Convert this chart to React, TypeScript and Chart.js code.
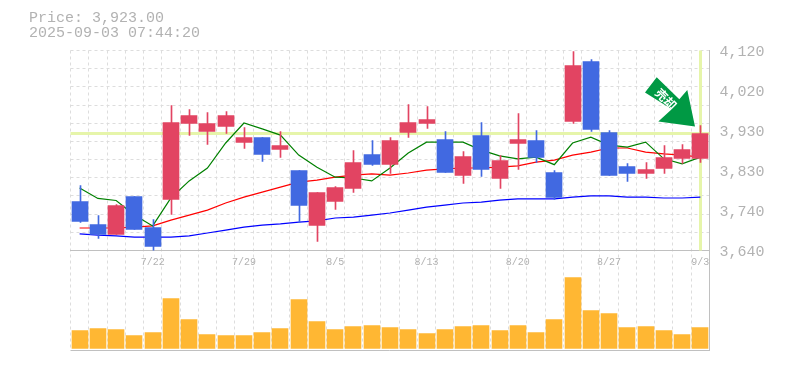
import React, { useEffect, useRef } from "react";
import { Chart, registerables } from "chart.js";

Chart.register(...registerables);

const headerLines = ["Price: 3,923.00", "2025-09-03 07:44:20"];
const currentPrice = 3923;
const arrowLabel = "売却";

const dates = ["7/15","7/16","7/17","7/18","7/22","7/23","7/24","7/25","7/28","7/29","7/30","7/31","8/1","8/4","8/5","8/6","8/7","8/8","8/12","8/13","8/14","8/15","8/18","8/19","8/20","8/21","8/22","8/25","8/26","8/27","8/28","8/29","9/1","9/2","9/3"];
const shownDates = ["7/22","7/29","8/5","8/13","8/20","8/27","9/3"];

const priceTickValues = [3640,3736,3832,3928,4024,4120];
const priceTickLabels = ["3,640","3,740","3,830","3,930","4,020","4,120"];
const priceMin = 3640;
const priceMax = 4120;
const gridDivisions = 11;

const opens  = [3759,3704,3680,3771,3696,3764,3946,3927,3939,3900,3912,3884,3833,3701,3759,3790,3872,3848,3924,3946,3908,3821,3917,3814,3898,3905,3828,3951,4095,3924,3843,3826,3838,3862,3862];
const closes = [3712,3680,3749,3692,3651,3948,3965,3946,3965,3912,3872,3893,3749,3780,3792,3852,3848,3905,3948,3956,3828,3867,3836,3857,3908,3864,3768,4085,3932,3821,3826,3836,3864,3884,3923];
const highs  = [3797,3725,3751,3771,3716,3989,3980,3972,3975,3936,3912,3927,3833,3780,3794,3881,3905,3912,3992,3987,3927,3879,3948,3869,3970,3929,3833,4120,4100,3929,3850,3852,3893,3896,3941];
const lows   = [3709,3671,3680,3692,3640,3728,3917,3896,3922,3886,3855,3864,3708,3663,3740,3780,3845,3826,3912,3934,3828,3802,3819,3790,3836,3852,3764,3946,3927,3821,3807,3814,3826,3850,3852];

const maShort = [3790,3765,3760,3725,3699,3766,3807,3838,3898,3946,3932,3917,3869,3840,3816,3814,3807,3838,3874,3900,3900,3900,3881,3867,3860,3864,3846,3898,3912,3893,3888,3900,3860,3848,3864];
const maMid   = [3694,3694,3694,3696,3699,3713,3725,3737,3754,3768,3780,3792,3804,3809,3816,3821,3824,3821,3826,3833,3836,3838,3838,3840,3843,3852,3857,3869,3876,3886,3886,3876,3872,3869,3864];
const maLong  = [3680,3677,3675,3672,3672,3672,3675,3682,3689,3696,3701,3704,3708,3711,3718,3720,3725,3730,3737,3744,3749,3754,3756,3761,3764,3764,3764,3768,3771,3771,3768,3768,3766,3766,3768];

const volumes = [18000,20000,19000,13000,16000,50000,29000,14000,13000,13000,16000,20000,49000,27000,19000,22000,23000,21000,19000,15000,19000,22000,23000,18000,23000,16000,29000,71000,38000,35000,21000,22000,18000,14000,21000];
const volumeMin = -2500;
const volumeMax = 97500;

const RED = "#E24462";
const BLUE = "#4169E1";
const ORANGE = "#FFB733";
const LIME = "#E6F5AA";
const GREY = "#C0C0C0";
const TEXT = "#B2B2B2";
const GRID = "#DDDDDD";
const MONO = '"Liberation Mono", monospace';

const snapPlugin = {
  id: "snap",
  afterDatasetsUpdate(chart: any) {
    chart.data.datasets.forEach((ds: any, i: number) => {
      if (ds.type !== "bar") return;
      chart.getDatasetMeta(i).data.forEach((el: any) => {
        el.x = Math.round(el.x) + (ds.snapOffset || 0);
        el.y = Math.round(el.y) + 0.5;
        el.base = Math.round(el.base) + 0.5;
      });
    });
  },
};

const guidesPlugin = {
  id: "guides",
  beforeDatasetsDraw(chart: any) {
    const { ctx, chartArea, scales } = chart;
    const y = Math.round(scales.y.getPixelForValue(currentPrice)) + 0.5;
    const x = Math.round(scales.x.getPixelForValue(dates.length - 1)) + 0.5;
    ctx.save();
    ctx.strokeStyle = LIME;
    ctx.lineWidth = 3;
    ctx.beginPath();
    ctx.moveTo(chartArea.left, y);
    ctx.lineTo(chartArea.right, y);
    ctx.moveTo(x, scales.y.top);
    ctx.lineTo(x, scales.y.bottom);
    ctx.stroke();
    ctx.restore();
  },
  afterDatasetsDraw(chart: any) {
    const { ctx, scales } = chart;
    const tx = Math.round(scales.x.getPixelForValue(dates.length - 1)) - 5;
    const ty = scales.y.getPixelForValue(highs[highs.length - 1]) + 1.5;
    const shape = [[-50,-34],[-38.3,-49.4],[-15.7,-27.4],[-7.7,-36.7],[0,0],[-36.7,-5],[-23.3,-17.4]];
    ctx.save();
    ctx.fillStyle = "#009944";
    ctx.beginPath();
    shape.forEach(([dx, dy], i) => (i ? ctx.lineTo(tx + dx, ty + dy) : ctx.moveTo(tx + dx, ty + dy)));
    ctx.closePath();
    ctx.fill();
    ctx.translate(tx - 29, ty - 27.5);
    ctx.rotate(Math.PI / 4);
    ctx.fillStyle = "#FFFFFF";
    ctx.font = 'bold 12px "Noto Sans CJK JP"';
    ctx.textAlign = "center";
    ctx.textBaseline = "middle";
    ctx.fillText(arrowLabel, 0, 0);
    ctx.restore();
  },
  afterDraw(chart: any) {
    const { ctx } = chart;
    ctx.save();
    ctx.fillStyle = TEXT;
    ctx.font = "15px " + MONO;
    ctx.textAlign = "left";
    ctx.textBaseline = "middle";
    headerLines.forEach((t, i) => ctx.fillText(t, 29, 18 + i * 15));
    ctx.restore();
  },
};

export default function App() {
  const ref = useRef<HTMLCanvasElement | null>(null);
  useEffect(() => {
    const bodyColors = closes.map((c, i) => (c >= opens[i] ? RED : BLUE));
    const maLine = (data: number[], color: string, order: number) => ({
      type: "line", data, borderColor: color, borderWidth: 1.2, pointRadius: 0, tension: 0, order, yAxisID: "y",
    });
    const chart = new Chart(ref.current as HTMLCanvasElement, {
      type: "bar",
      data: {
        labels: dates,
        datasets: [
          { type: "bar", data: opens.map((o, i) => [o, closes[i]]), backgroundColor: bodyColors, barThickness: 16, grouped: false, order: 1, yAxisID: "y", borderSkipped: false },
          { type: "bar", data: lows.map((l, i) => [l, highs[i]]), backgroundColor: bodyColors, barThickness: 1, grouped: false, order: 2, yAxisID: "y", snapOffset: 0.5, borderSkipped: false },
          maLine(maLong, "#0000FF", 5),
          maLine(maMid, "#FF0000", 4),
          maLine(maShort, "#008000", 3),
          { type: "bar", data: volumes, backgroundColor: ORANGE, barThickness: 16, grouped: false, order: 6, yAxisID: "yVol" },
        ],
      } as any,
      options: {
        animation: false,
        responsive: false,
        layout: { padding: { left: 70.5, top: 50.5, right: 0, bottom: 19.5 } },
        plugins: { legend: { display: false }, tooltip: { enabled: false }, title: { display: false } },
        scales: {
          x: {
            type: "category",
            position: { y: priceMin },
            offset: true,
            grid: { offset: true, color: GRID, drawTicks: false },
            border: { color: GREY, dash: [3, 3] },
            ticks: {
              autoSkip: false,
              maxRotation: 0,
              padding: 6,
              color: TEXT,
              font: { family: MONO, size: 10 },
              callback: (_v: any, i: number) => (shownDates.includes(dates[i]) ? dates[i] : ""),
            },
          },
          y: {
            type: "linear",
            position: "right",
            stack: "panels",
            stackWeight: 2,
            min: priceMin,
            max: priceMax,
            afterBuildTicks: (s: any) => {
              const grid = Array.from({ length: gridDivisions + 1 }, (_, i) => priceMin + ((priceMax - priceMin) * i) / gridDivisions);
              const all = [...grid, ...priceTickValues.slice(1, -1)].sort((a, b) => a - b);
              s.ticks = all.map((value) => ({ value }));
            },
            afterFit: (s: any) => { s.width = 75.5; },
            grid: {
              drawTicks: false,
              color: (c: any) => (c.tick && priceTickValues.slice(1, -1).includes(c.tick.value) ? "rgba(0,0,0,0)" : GRID),
            },
            border: { color: GREY, dash: [3, 3] },
            ticks: {
              autoSkip: false,
              padding: 10,
              labelOffset: 2,
              color: TEXT,
              font: { family: MONO, size: 15 },
              callback: (v: any) => {
                const k = priceTickValues.indexOf(v);
                return k >= 0 ? priceTickLabels[k] : "";
              },
            },
          },
          yVol: {
            type: "linear",
            position: "right",
            stack: "panels",
            stackWeight: 1,
            min: volumeMin,
            max: volumeMax,
            afterBuildTicks: (s: any) => { s.ticks = [{ value: volumeMin }]; },
            afterFit: (s: any) => { s.width = 75.5; },
            grid: { color: GREY, drawTicks: false },
            border: { color: GREY },
            ticks: { display: false },
          },
        },
      } as any,
      plugins: [snapPlugin, guidesPlugin],
    } as any);
    return () => chart.destroy();
  }, []);
  return (
    <div style={{ position: "fixed", left: 0, top: 0, width: 785, height: 370, background: "#fff" }}>
      <canvas ref={ref} width={785} height={370} style={{ display: "block" }} />
    </div>
  );
}
